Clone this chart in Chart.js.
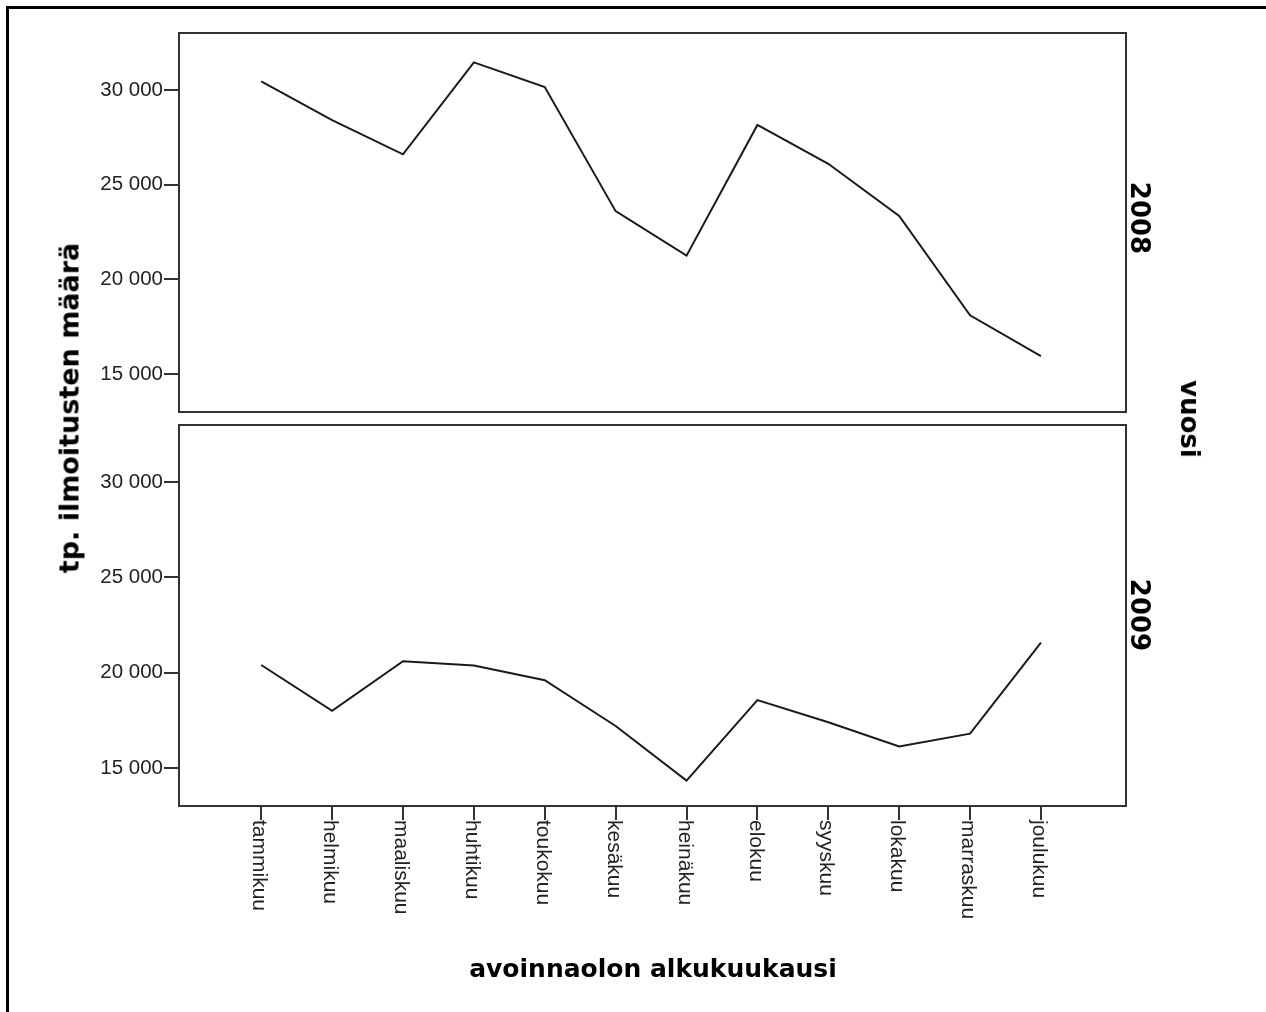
<!DOCTYPE html>
<html>
<head>
<meta charset="utf-8">
<script src="https://cdn.jsdelivr.net/npm/chart.js@4.4.0/dist/chart.umd.min.js"></script>
<style>
    body { margin: 0; background: #fff; width: 1266px; height: 1012px; overflow: hidden; position: relative; }
    .frame { position: absolute; left: 6px; top: 6px; width: 1300px; height: 1100px; border-top: 3px solid #000; border-left: 3px solid #000; }
    .panel { position: absolute; left: 0; }
    .title { position: absolute; font-family: "DejaVu Sans", sans-serif; font-weight: bold; color: #000; white-space: nowrap; transform-origin: center; }
</style>
</head>
<body>
<div class="frame"></div>
<div class="panel" style="top:0"><canvas id="chart2008" width="1266" height="420"></canvas></div>
<div class="panel" style="top:420px"><canvas id="chart2009" width="1266" height="592"></canvas></div>

<div class="title" id="yTitle" style="left:69px;top:408px;font-size:27px;transform:translate(-50%,-50%) rotate(-90deg)">tp. ilmoitusten määrä</div>
<div class="title" id="xTitle" style="left:653px;top:968px;font-size:25px;transform:translate(-50%,-50%)">avoinnaolon alkukuukausi</div>
<div class="title" style="left:1190px;top:419px;font-size:26px;transform:translate(-50%,-50%) rotate(90deg)">vuosi</div>
<div class="title" style="left:1140px;top:218px;font-size:26px;transform:translate(-50%,-50%) rotate(90deg)">2008</div>
<div class="title" style="left:1140px;top:615px;font-size:26px;transform:translate(-50%,-50%) rotate(90deg)">2009</div>

<script>
// Kuukaudet ja ilmoitusten määrät vuosittain
const months = ['tammikuu', 'helmikuu', 'maaliskuu', 'huhtikuu', 'toukokuu', 'kesäkuu',
    'heinäkuu', 'elokuu', 'syyskuu', 'lokakuu', 'marraskuu', 'joulukuu'];
const values2008 = [30450, 28400, 26600, 31450, 30150, 23600, 21250, 28150, 26100, 23350, 18100, 15950];
const values2009 = [20400, 18000, 20600, 20380, 19600, 17200, 14330, 18560, 17400, 16130, 16800, 21580];
const yTickValues = [15000, 20000, 25000, 30000];
const yTickLabels = ['15 000', '20 000', '25 000', '30 000'];

const tickFont = { family: '"Liberation Sans", Arial, sans-serif', size: 20.5 };

// Kehys paneelin ympärille
const framePlugin = {
    id: 'panelFrame',
    afterDraw(chart) {
        const a = chart.chartArea;
        const ctx = chart.ctx;
        ctx.save();
        ctx.strokeStyle = '#333';
        ctx.lineWidth = 2;
        ctx.strokeRect(a.left, a.top, a.right - a.left, a.bottom - a.top);
        ctx.restore();
    }
};

// Kuukausien nimet pystyyn, luetaan ylhäältä alas
const monthLabelPlugin = {
    id: 'monthLabels',
    afterDraw(chart) {
        const ctx = chart.ctx;
        const xs = chart.scales.x;
        ctx.save();
        ctx.font = '21px "Liberation Sans", Arial, sans-serif';
        ctx.fillStyle = '#222';
        ctx.textAlign = 'left';
        ctx.textBaseline = 'middle';
        months.forEach((m, i) => {
            const px = xs.getPixelForValue(i + 1);
            ctx.save();
            ctx.translate(px - 2, chart.chartArea.bottom + 14);
            ctx.rotate(Math.PI / 2);
            ctx.fillText(m, 0, 0);
            ctx.restore();
        });
        ctx.restore();
    }
};

function makePanel(canvasId, values, showX, padding) {
    const ctx = document.getElementById(canvasId).getContext('2d');
    return new Chart(ctx, {
        type: 'line',
        data: {
            datasets: [{
                data: values.map((v, i) => ({ x: i + 1, y: v })),
                borderColor: '#1a1a1a',
                borderWidth: 2,
                pointRadius: 0,
                tension: 0,
                fill: false
            }]
        },
        options: {
            responsive: false,
            animation: false,
            layout: { padding: padding },
            plugins: { legend: { display: false }, tooltip: { enabled: false } },
            scales: {
                x: {
                    type: 'linear',
                    display: showX,
                    min: -0.16,
                    max: 13.2,
                    afterBuildTicks: axis => { axis.ticks = months.map((m, i) => ({ value: i + 1 })); },
                    afterFit: axis => {
                        if (showX) axis.height = 206;
                        axis.paddingLeft = 0;
                        axis.paddingRight = 0;
                    },
                    border: { display: false },
                    grid: { drawOnChartArea: false, drawTicks: true, tickLength: 14, color: '#333', lineWidth: 2 },
                    ticks: { display: false }
                },
                y: {
                    min: 13000,
                    max: 33000,
                    afterBuildTicks: axis => { axis.ticks = yTickValues.map(v => ({ value: v })); },
                    afterFit: axis => {
                        axis.width = 179;
                        axis.paddingTop = 0;
                        axis.paddingBottom = 0;
                    },
                    border: { display: false },
                    grid: { drawOnChartArea: false, drawTicks: true, tickLength: 15, color: '#333', lineWidth: 2 },
                    ticks: {
                        padding: 1,
                        color: '#222',
                        font: tickFont,
                        callback: value => yTickLabels[yTickValues.indexOf(value)]
                    }
                }
            }
        },
        plugins: showX ? [framePlugin, monthLabelPlugin] : [framePlugin]
    });
}

makePanel('chart2008', values2008, false, { left: 0, right: 140, top: 33, bottom: 8 });
makePanel('chart2009', values2009, true, { left: 0, right: 140, top: 5, bottom: 0 });
</script>
</body>
</html>
